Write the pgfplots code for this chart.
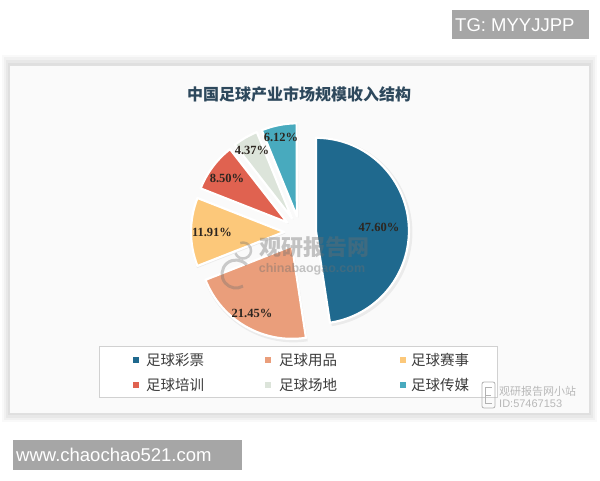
\documentclass[border=0pt]{standalone}
\usepackage{pgfplots}
\pgfplotsset{compat=1.18}
\usepackage{pgfplotstable}
\usepackage{fontspec}
\setmainfont{Liberation Sans}
\newfontfamily\cjk{Noto Sans CJK SC}
\newfontfamily\lserif{Liberation Serif}
\definecolor{s0}{RGB}{31,105,142}
\definecolor{s1}{RGB}{234,158,123}
\definecolor{s2}{RGB}{252,200,122}
\definecolor{s3}{RGB}{224,98,80}
\definecolor{s4}{RGB}{220,228,218}
\definecolor{s5}{RGB}{72,170,190}
\definecolor{titlec}{RGB}{45,72,92}
\definecolor{legc}{RGB}{60,60,60}
\definecolor{boxgray}{RGB}{166,166,166}
\definecolor{labc}{RGB}{45,38,32}
\definecolor{wm}{RGB}{110,110,110}
\tikzset{pctlab/.style={font=\lserif\bfseries\fontsize{12.5}{13}\selectfont, text=labc, inner sep=0pt}}
\pgfplotstableread{
idx val lx ly
0 47.60 379 227
1 21.45 252 313
2 11.91 212 232
3 8.50 227 178
4 4.37 252 150
5 6.12 281 137
}\piedata
\begin{document}
\begin{tikzpicture}
\begin{axis}[scale only axis, width=600pt, height=480pt,
  xmin=0, xmax=600, ymin=0, ymax=480, y dir=reverse,
  hide axis, clip=false, anchor=south west, at={(0,0)}]
% panel with soft shadow
\fill[black, opacity=0.025] (2,55) rectangle (597,422);
\fill[black, opacity=0.03] (4,57) rectangle (595,420);
\fill[black, opacity=0.035] (6,60) rectangle (593,418);
\fill[black, opacity=0.04] (8,63) rectangle (591,415);
\fill[white!98!black] (9,65) rectangle (589,413);
\draw[black!12, line width=0.6pt] (9,65) rectangle (589,413);
% title
\node[font=\cjk\bfseries\fontsize{16}{16}\selectfont, text=titlec] at (299,94) {中国足球产业市场规模收入结构};
% pie slices
\xdef\cum{0}
\pgfplotsinvokeforeach{0,...,5}{
  \pgfplotstablegetelem{#1}{val}\of\piedata \let\pval\pgfplotsretval
  \pgfplotstablegetelem{#1}{lx}\of\piedata \let\plx\pgfplotsretval
  \pgfplotstablegetelem{#1}{ly}\of\piedata \let\ply\pgfplotsretval
  \pgfmathsetmacro\sa{90-3.6*\cum}
  \pgfmathsetmacro\ea{90-3.6*(\cum+\pval)}
  \pgfmathsetmacro\ma{(\sa+\ea)/2}
  \pgfmathsetmacro\cx{300+16*cos(\ma)}
  \pgfmathsetmacro\cy{232-16*sin(\ma)}
  \edef\temp{%
    \noexpand\fill[black, opacity=0.06] (axis cs:\cx+1.5,\cy+1.5) -- ++(\sa:95pt) arc[start angle=\sa, end angle=\ea, radius=95pt] -- cycle;
    \noexpand\fill[fill=s#1, draw=white, line width=2.2pt, line join=round] (axis cs:\cx,\cy) -- ++(\sa:93pt) arc[start angle=\sa, end angle=\ea, radius=93pt] -- cycle;
    \noexpand\node[pctlab] at (axis cs:\plx,\ply) {\pval\noexpand\%};
  }
  \temp
  \pgfmathsetmacro\newcum{\cum+\pval}
  \xdef\cum{\newcum}
}
% watermark
\draw[wm, opacity=0.35, line width=3pt] (236,256) ++(40:14) arc[start angle=40, end angle=300, radius=14pt];
\draw[wm, opacity=0.35, line width=2.5pt] (243,256) ++(200:8) arc[start angle=200, end angle=470, radius=8pt];
\node[font=\cjk\bfseries\fontsize{22}{22}\selectfont, text=wm, opacity=0.4] at (314,247) {观研报告网};
\node[font=\bfseries\fontsize{12.5}{12.5}\selectfont, text=wm, opacity=0.4] at (312,269) {chinabaogao.com};
% legend
\fill[white] (99,346) rectangle (497,397);
\draw[black!18, line width=0.6pt] (99,346) rectangle (497,397);
\fill[s0] (133,357) rectangle (139,363);
\fill[s1] (265,357) rectangle (271,363);
\fill[s2] (400,357) rectangle (406,363);
\fill[s3] (133,382) rectangle (139,388);
\fill[s4] (265,382) rectangle (271,388);
\fill[s5] (400,382) rectangle (406,388);
\tikzset{legt/.style={font=\cjk\fontsize{14.5}{14.5}\selectfont, text=legc, anchor=west, inner sep=0pt}}
\node[legt] at (146,360) {足球彩票};
\node[legt] at (279,360) {足球用品};
\node[legt] at (411,360) {足球赛事};
\node[legt] at (146,385) {足球培训};
\node[legt] at (279,385) {足球场地};
\node[legt] at (411,385) {足球传媒};
% bottom-right small watermark
\draw[black!30, line width=0.8pt, rounded corners=2pt] (482,382) rectangle (495,408);
\draw[black!30, line width=0.8pt] (485,387) -- (492,387) (485,387) -- (485,403) -- (492,403) (485,395) -- (491,395);
\node[font=\cjk\fontsize{11}{11}\selectfont, text=black!28, anchor=west, inner sep=0pt] at (499,391) {观研报告网小站};
\node[font=\fontsize{11}{11}\selectfont, text=black!28, anchor=west, inner sep=0pt] at (499,404) {ID:57467153};
% top-right and bottom-left tags
\fill[boxgray] (452,10) rectangle (589,39);
\node[font=\fontsize{18.5}{18.5}\selectfont, text=white, anchor=west, inner sep=0pt] at (455,25) {TG: MYYJJPP};
\fill[boxgray] (13,440) rectangle (242,470);
\node[font=\fontsize{18.5}{18.5}\selectfont, text=white, anchor=west, inner sep=0pt] at (16,455) {www.chaochao521.com};
\end{axis}
\pgfresetboundingbox
\path (0,0) rectangle (600pt,480pt);
\end{tikzpicture}
\end{document}
